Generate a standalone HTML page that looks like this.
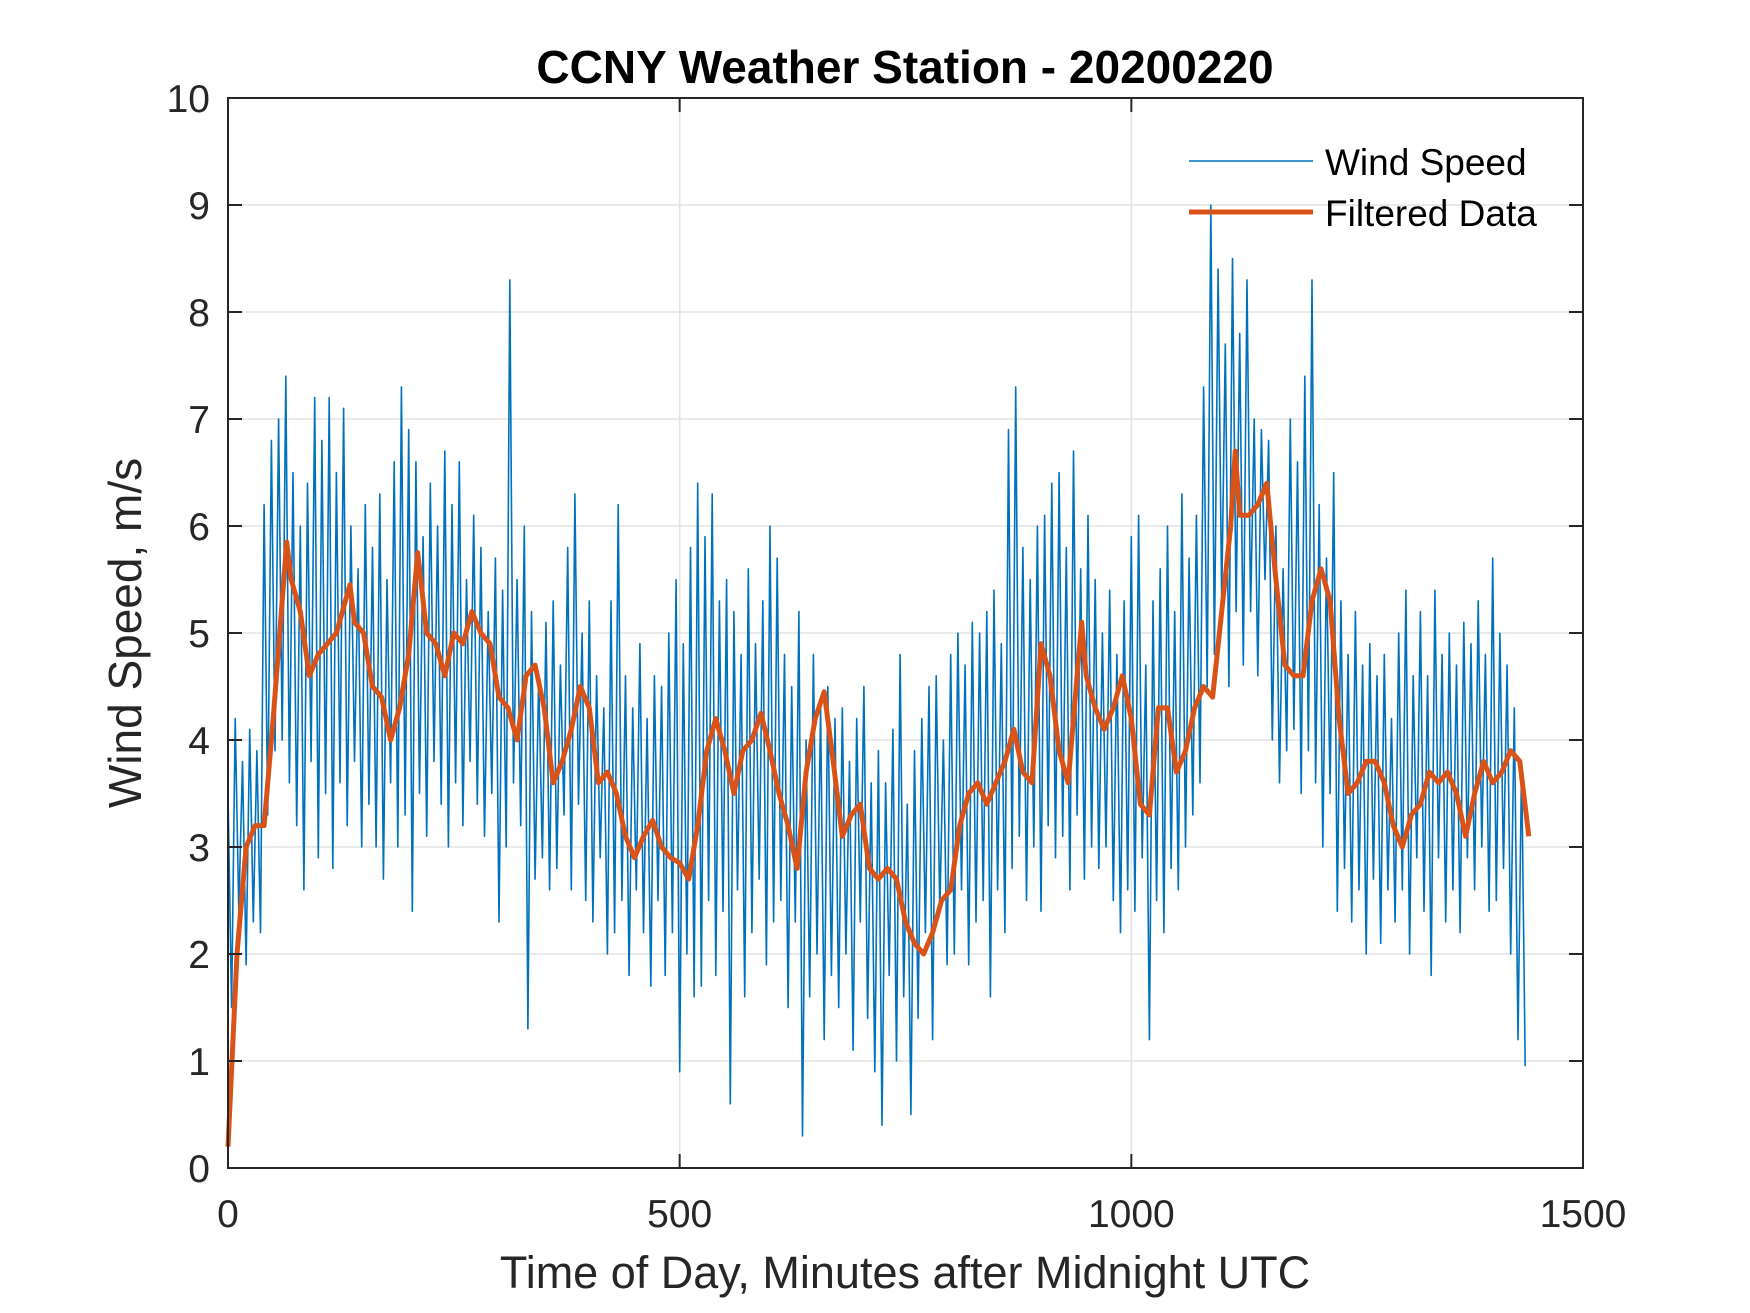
<!DOCTYPE html>
<html><head><meta charset="utf-8"><style>
html,body{margin:0;padding:0;background:#fff;}
svg{display:block;font-family:"Liberation Sans",Arial,sans-serif;}
</style></head><body>
<svg id="chart" width="1750" height="1313" viewBox="0 0 1750 1313" xmlns="http://www.w3.org/2000/svg">
<rect x="0" y="0" width="1750" height="1313" fill="#fff"/>
<g id="grid"></g>
<g id="series"></g>
<g id="axes"></g>
<text x="905" y="83" text-anchor="middle" font-size="46" font-weight="bold" fill="#000">CCNY Weather Station - 20200220</text>
<text x="905" y="1288" text-anchor="middle" font-size="45" fill="#262626">Time of Day, Minutes after Midnight UTC</text>
<text transform="translate(141,633) rotate(-90)" text-anchor="middle" font-size="46" fill="#262626">Wind Speed, m/s</text>
<g>
<line x1="1189" y1="161" x2="1313" y2="161" stroke="#0072BD" stroke-width="1.6"/>
<text x="1325" y="175" font-size="37" fill="#000">Wind Speed</text>
<line x1="1189" y1="212" x2="1313" y2="212" stroke="#D95319" stroke-width="5"/>
<text x="1325" y="226" font-size="37" fill="#000">Filtered Data</text>
</g>
</svg>
<script>
const windStep = 4;
const windValues = [
3.5,1.5,4.2,2.4,3.8,1.9,4.1,2.3,3.9,2.2,
6.2,3.3,6.8,3.9,7.0,4.0,7.4,3.6,6.5,3.2,
6.0,2.6,6.4,3.8,7.2,2.9,6.8,3.5,7.2,2.8,
6.5,3.6,7.1,3.2,6.0,3.8,5.6,3.0,6.2,3.4,
5.8,3.0,6.3,2.7,5.5,3.6,6.6,3.0,7.3,3.3,
6.9,2.4,6.6,3.5,5.9,3.1,6.4,3.8,6.0,3.4,
6.7,3.0,6.2,3.6,6.6,3.2,5.5,3.8,6.1,3.4,
5.8,3.1,5.2,3.5,5.7,2.3,5.4,3.0,8.3,3.6,
5.5,3.2,6.0,1.3,5.2,2.7,4.6,2.9,5.1,2.6,
5.3,2.8,4.7,3.3,5.8,2.6,6.3,3.4,5.0,2.5,
5.3,2.3,4.6,2.9,4.3,2.0,5.3,2.2,6.2,2.5,
4.6,1.8,4.3,2.6,4.9,2.2,4.2,1.7,4.6,2.5,
4.5,1.8,5.0,2.2,5.5,0.9,4.9,2.0,5.8,1.6,
6.4,1.7,5.9,2.5,6.3,1.8,5.3,2.4,5.5,0.6,
5.2,2.6,4.8,1.6,5.6,2.2,4.9,2.7,5.3,1.9,
6.0,2.3,5.7,2.5,4.8,1.5,4.5,2.3,5.2,0.3,
4.0,1.6,4.8,2.0,4.3,1.2,4.5,1.8,4.2,1.5,
4.3,2.0,3.8,1.1,4.2,2.3,4.5,1.4,3.6,0.9,
3.9,0.4,3.6,1.8,4.1,1.0,4.8,1.6,3.4,0.5,
3.9,1.4,4.2,2.2,4.5,1.2,4.6,2.4,4.0,1.9,
4.8,2.0,5.0,2.6,4.7,1.9,5.1,2.3,5.0,2.5,
5.2,1.6,5.4,2.6,4.9,2.2,6.9,2.8,7.3,3.1,
5.8,2.5,5.5,3.0,6.0,2.4,6.1,3.2,6.4,2.9,
6.5,3.1,5.8,2.6,6.7,3.3,5.6,2.7,6.1,3.0,
5.5,2.8,5.0,3.0,5.4,2.5,4.8,2.2,5.3,2.6,
5.9,2.4,6.1,2.9,4.7,1.2,5.3,2.5,5.6,2.2,
6.0,2.8,5.2,2.6,6.3,3.0,5.7,3.3,6.1,3.6,
7.3,4.5,9.0,4.8,8.4,5.3,7.7,4.5,8.5,5.2,
7.8,4.7,8.3,5.2,7.0,4.6,6.9,5.5,6.8,4.0,
6.0,3.6,5.6,3.9,7.0,4.1,6.6,3.5,7.4,3.9,
8.3,3.6,6.2,3.0,5.7,3.5,6.5,2.4,5.3,2.8,
4.8,2.3,5.2,2.6,4.7,2.0,4.9,2.7,4.6,2.1,
4.8,2.6,4.2,2.3,5.0,2.6,5.4,2.0,4.6,2.9,
5.2,2.4,4.6,1.8,5.4,2.9,4.8,2.3,5.0,2.6,
4.7,2.2,5.1,2.9,4.9,2.6,5.3,3.0,4.8,2.4,
5.7,2.5,5.0,2.8,4.7,2.0,4.3,1.2,3.8,0.95
];
const filtTimes = [0,10,20,30,40,50,60,65,70,80,90,100,110,120,130,135,140,150,160,170,180,190,200,210,220,230,240,250,260,270,280,290,300,310,320,330,340,350,360,370,380,390,400,410,420,430,440,450,460,470,480,490,500,510,520,530,540,550,560,570,580,590,600,610,620,630,640,650,660,670,680,690,700,710,720,730,740,750,760,770,780,790,800,810,820,830,840,850,860,870,880,890,900,910,920,930,940,945,950,960,970,980,990,1000,1010,1020,1030,1040,1050,1060,1070,1080,1090,1100,1110,1115,1120,1130,1140,1150,1160,1170,1180,1190,1200,1210,1220,1230,1240,1250,1260,1270,1280,1290,1300,1310,1320,1330,1340,1350,1360,1370,1380,1390,1400,1410,1420,1430,1440];
const filtValues = [0.2,2.0,3.0,3.2,3.2,4.2,5.3,5.85,5.5,5.2,4.6,4.8,4.9,5.0,5.3,5.45,5.1,5.0,4.5,4.4,4.0,4.3,4.8,5.75,5.0,4.9,4.6,5.0,4.9,5.2,5.0,4.9,4.4,4.3,4.0,4.6,4.7,4.3,3.6,3.8,4.1,4.5,4.3,3.6,3.7,3.5,3.1,2.9,3.1,3.25,3.0,2.9,2.85,2.7,3.2,3.9,4.2,3.9,3.5,3.9,4.0,4.25,3.9,3.5,3.2,2.8,3.7,4.2,4.45,3.8,3.1,3.3,3.4,2.8,2.7,2.8,2.7,2.3,2.1,2.0,2.2,2.5,2.6,3.2,3.5,3.6,3.4,3.6,3.8,4.1,3.7,3.6,4.9,4.6,3.9,3.6,4.6,5.1,4.6,4.3,4.1,4.3,4.6,4.2,3.4,3.3,4.3,4.3,3.7,3.9,4.3,4.5,4.4,5.2,6.0,6.7,6.1,6.1,6.2,6.4,5.5,4.7,4.6,4.6,5.3,5.6,5.3,4.2,3.5,3.6,3.8,3.8,3.6,3.2,3.0,3.3,3.4,3.7,3.6,3.7,3.5,3.1,3.5,3.8,3.6,3.7,3.9,3.8,3.1];
const xTicks = [0,500,1000,1500];
const yTicks = [0,1,2,3,4,5,6,7,8,9,10];

const L=228,R=1583,T=98,B=1168;
const xs = v => L + (v/1500)*(R-L);
const ys = v => B - (v/10)*(B-T);
const NS="http://www.w3.org/2000/svg";
function mk(tag, parent){const e=document.createElementNS(NS,tag);parent.appendChild(e);return e;}
const grid=document.getElementById('grid'), axes=document.getElementById('axes'), series=document.getElementById('series');

xTicks.forEach(t=>{
  const g=mk('line',grid);
  
  
  g.setAttribute('x1',xs(t));g.setAttribute('x2',xs(t));g.setAttribute('y1',T);g.setAttribute('y2',B);
  g.setAttribute('stroke','#e3e3e3');g.setAttribute('stroke-width','1.5');
  const tk=mk('line',axes);
  
  
  tk.setAttribute('x1',xs(t));tk.setAttribute('x2',xs(t));tk.setAttribute('y1',B);tk.setAttribute('y2',B-14);
  tk.setAttribute('stroke','#262626');tk.setAttribute('stroke-width','2');
  const tk2=mk('line',axes);
  
  
  tk2.setAttribute('x1',xs(t));tk2.setAttribute('x2',xs(t));tk2.setAttribute('y1',T);tk2.setAttribute('y2',T+14);
  tk2.setAttribute('stroke','#262626');tk2.setAttribute('stroke-width','2');
  const lb=mk('text',axes);
  
  
  lb.setAttribute('x',xs(t));lb.setAttribute('y',B+59);lb.setAttribute('text-anchor','middle');
  lb.setAttribute('font-size','39');lb.setAttribute('fill','#262626');lb.textContent=t;
});
yTicks.forEach(t=>{
  const g=mk('line',grid);
  
  
  g.setAttribute('x1',L);g.setAttribute('x2',R);g.setAttribute('y1',ys(t));g.setAttribute('y2',ys(t));
  g.setAttribute('stroke','#e3e3e3');g.setAttribute('stroke-width','1.5');
  const tk=mk('line',axes);
  
  
  tk.setAttribute('x1',L);tk.setAttribute('x2',L+14);tk.setAttribute('y1',ys(t));tk.setAttribute('y2',ys(t));
  tk.setAttribute('stroke','#262626');tk.setAttribute('stroke-width','2');
  const tk2=mk('line',axes);
  
  
  tk2.setAttribute('x1',R);tk2.setAttribute('x2',R-14);tk2.setAttribute('y1',ys(t));tk2.setAttribute('y2',ys(t));
  tk2.setAttribute('stroke','#262626');tk2.setAttribute('stroke-width','2');
  const lb=mk('text',axes);
  
  
  lb.setAttribute('x',L-18);lb.setAttribute('y',ys(t)+14);lb.setAttribute('text-anchor','end');
  lb.setAttribute('font-size','39');lb.setAttribute('fill','#262626');lb.textContent=t;
});
const box=mk('rect',axes);


box.setAttribute('x',L);box.setAttribute('y',T);box.setAttribute('width',R-L);box.setAttribute('height',B-T);
box.setAttribute('fill','none');box.setAttribute('stroke','#262626');box.setAttribute('stroke-width','2');

const wp=mk('polyline',series);


wp.setAttribute('points',windValues.map((v,i)=>xs(i*windStep).toFixed(1)+','+ys(v).toFixed(1)).join(' '));
wp.setAttribute('fill','none');wp.setAttribute('stroke','#0072BD');wp.setAttribute('stroke-width','1.6');wp.setAttribute('stroke-linejoin','round');

const fp=mk('polyline',series);


fp.setAttribute('points',filtValues.map((v,i)=>xs(filtTimes[i]).toFixed(1)+','+ys(v).toFixed(1)).join(' '));
fp.setAttribute('fill','none');fp.setAttribute('stroke','#D95319');fp.setAttribute('stroke-width','5');fp.setAttribute('stroke-linejoin','round');
</script>
</body></html>
